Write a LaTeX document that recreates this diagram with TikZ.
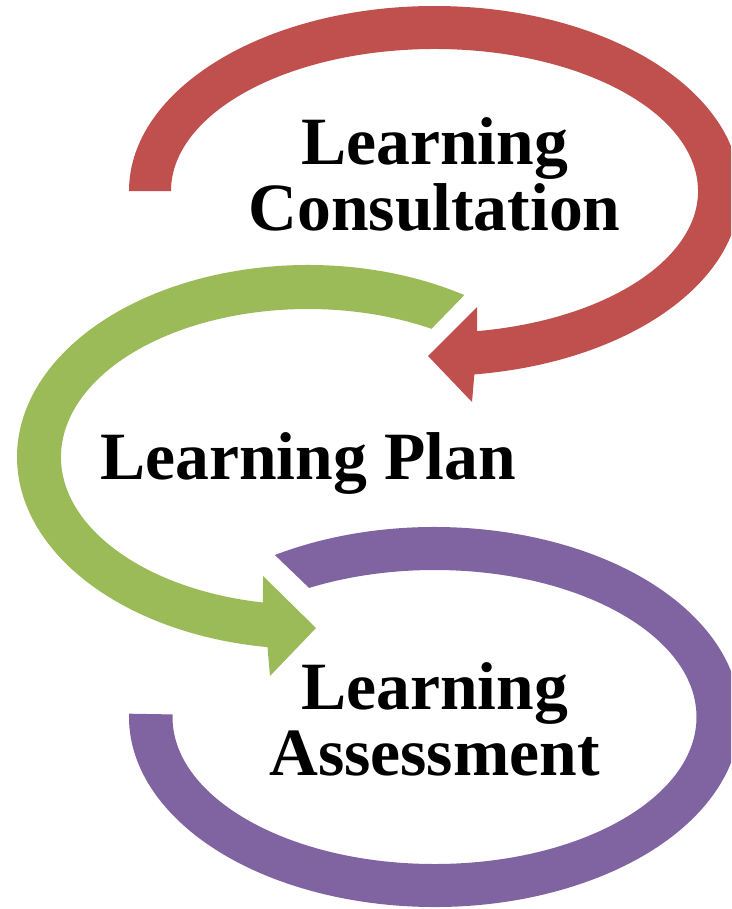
\documentclass[tikz,border=0pt]{standalone}
\usepackage{fontspec}
\setmainfont{Liberation Serif}
\definecolor{cyclered}{HTML}{C0504D}
\definecolor{cyclegreen}{HTML}{9BBB59}
\definecolor{cyclepurple}{HTML}{8064A2}

\begin{document}
\begin{tikzpicture}[x=0.02cm, y=-0.02cm,
    cycletext/.style={font=\fontsize{38.5}{37.4}\selectfont\bfseries, align=center, anchor=base, inner sep=0pt}]
    \useasboundingbox (0,0) rectangle (731,909);
    \clip (0,0) rectangle (731,909);

    % Red band: consultation
    \fill[cyclered] (129,191) arc[start angle=180, end angle=442.5, x radius=305.5, y radius=185]
        -- (472,402) -- (428,356) -- (477,307)
        -- ({434.5+263.5*cos(440.7)},{191+142*sin(440.7)})
        arc[start angle=440.7, end angle=180, x radius=263.5, y radius=142] -- cycle;

    % Green band: plan
    \fill[cyclegreen] ({308+291*cos(302.5)},{457+192*sin(302.5)})
        arc[start angle=302.5, end angle=98, x radius=291, y radius=192]
        -- (270,676) -- (316,628) -- (263,576)
        -- ({308+247*cos(100.5)},{457+148*sin(100.5)})
        arc[start angle=100.5, end angle=300, x radius=247, y radius=148] -- cycle;

    % Purple band: assessment
    \fill[cyclepurple] ({434.5+305.5*cos(238.5)},{717+190*sin(238.5)})
        arc[start angle=238.5, end angle=541, x radius=305.5, y radius=190]
        -- ({434.5+262*cos(541)},{717+147*sin(541)})
        arc[start angle=541, end angle=241.4, x radius=262, y radius=147] -- cycle;

    % Labels (base is the last line)
    \node[cycletext] (consult) at (434.5,230) {Learning\\Consultation};
    \node[cycletext] (plan) at (308,479) {Learning Plan};
    \node[cycletext] (assess) at (434.5,775) {Learning\\Assessment};
\end{tikzpicture}
\end{document}
